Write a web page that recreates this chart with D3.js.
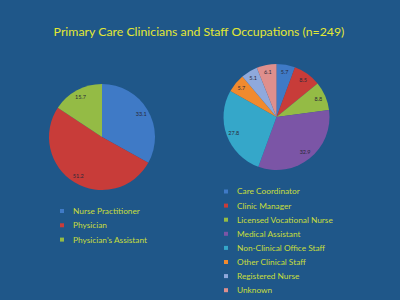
<!DOCTYPE html>
<html>
<head>
<meta charset="utf-8">
<script src="https://cdn.jsdelivr.net/npm/d3@7"></script>
<style>
  body { margin: 0; background: #1f5789; }
  svg { display: block; }
</style>
</head>
<body>
<svg id="chart" width="400" height="300"></svg>
<script>
// left pie - clinicians
var clinicianNames = ["Nurse Practitioner", "Physician", "Physician's Assistant"];
var clinicianValues = [33.1, 51.2, 15.7];
var clinicianColors = ["#3f7ac6", "#c83c39", "#94bb45"];

// right pie - staff
var staffNames = ["Care Coordinator", "Clinic Manager", "Licensed Vocational Nurse", "Medical Assistant",
  "Non-Clinical Office Staff", "Other Clinical Staff", "Registered Nurse", "Unknown"];
var staffValues = [5.7, 8.5, 8.8, 32.9, 27.8, 5.7, 5.1, 6.1];
var staffColors = ["#3f7ac6", "#c83c39", "#94bb45", "#7b55a6", "#35a7c9", "#f08a2e", "#8fa9dc", "#de8f8d"];

var svg = d3.select("#chart");

svg.append("text")
  .attr("x", 199).attr("y", 36)
  .attr("text-anchor", "middle")
  .attr("font-family", "Lato, 'Open Sans', sans-serif")
  .attr("font-size", 12.3)
  .attr("fill", "#e3e834")
  .text("Primary Care Clinicians and Staff Occupations (n=249)");

function drawPie(cx, cy, r, names, values, colors, legX, legY, legStep) {
  var g = svg.append("g").attr("transform", "translate(" + cx + "," + cy + ")");
  var pie = d3.pie().sort(null);
  var arcs = pie(values);
  var arc = d3.arc().innerRadius(0).outerRadius(r);
  var labelArc = d3.arc().innerRadius(r * 0.86).outerRadius(r * 0.86);

  g.selectAll("path")
    .data(arcs)
    .enter().append("path")
    .attr("d", arc)
    .attr("fill", function(d, i) { return colors[i]; });

  g.selectAll("text")
    .data(arcs)
    .enter().append("text")
    .attr("transform", function(d) { return "translate(" + labelArc.centroid(d) + ")"; })
    .attr("text-anchor", "middle")
    .attr("dy", "0.35em")
    .attr("font-family", "Lato, sans-serif")
    .attr("font-size", 5.5)
    .attr("fill", "#2a2a3a")
    .text(function(d) { return d.data.toFixed(1); });

  var leg = svg.append("g");
  var rows = leg.selectAll("g")
    .data(names)
    .enter().append("g")
    .attr("transform", function(d, i) { return "translate(" + legX + "," + (legY + i * legStep) + ")"; });
  rows.append("rect")
    .attr("x", -2).attr("y", -2).attr("width", 4).attr("height", 4)
    .attr("fill", function(d, i) { return colors[i]; });
  rows.append("text")
    .attr("x", 11).attr("dy", "0.35em")
    .attr("font-family", "Lato, sans-serif")
    .attr("font-size", 8.3)
    .attr("fill", "#c8de3c")
    .text(function(d) { return d; });
}

drawPie(102, 137, 53, clinicianNames, clinicianValues, clinicianColors, 62, 211, 14.3);
drawPie(276.5, 117, 53, staffNames, staffValues, staffColors, 226, 191.5, 14.1);
</script>
</body>
</html>
